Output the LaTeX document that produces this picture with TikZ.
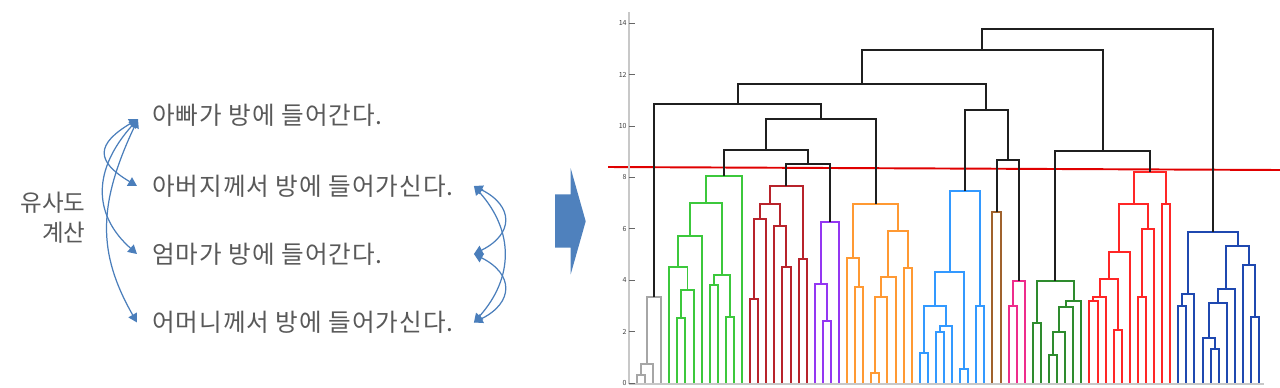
\documentclass[tikz,border=0pt]{standalone}
\usepackage{fontspec}
\setmainfont{Noto Sans CJK KR}
\newfontfamily\sentfont[LetterSpace=4]{Noto Sans CJK KR}
\usepackage{tikz}
\usetikzlibrary{arrows.meta}
\definecolor{textgray}{HTML}{595959}
\definecolor{arrowblue}{HTML}{4A7EBB}
\definecolor{blockblue}{HTML}{4F81BD}
\definecolor{axisgray}{HTML}{C8C8C8}
\definecolor{cgray}{HTML}{A6A6A6}
\definecolor{cgreen}{HTML}{3CC83C}
\definecolor{cdarkred}{HTML}{B8232B}
\definecolor{cpurple}{HTML}{9436F2}
\definecolor{corange}{HTML}{FF9933}
\definecolor{clightblue}{HTML}{3399FF}
\definecolor{cbrown}{HTML}{A0622D}
\definecolor{cpink}{HTML}{EE2C8C}
\definecolor{cdarkgreen}{HTML}{2E8B2E}
\definecolor{cred}{HTML}{FF2626}
\definecolor{cdarkblue}{HTML}{1F48B0}
\definecolor{cutred}{HTML}{E00000}
\tikzset{%
	sentence/.style = {
		anchor=west, inner sep=0pt,
		text=textgray, font=\sentfont\fontsize{14}{17}\selectfont
	},
	simlabel/.style = {
		anchor=east, inner sep=0pt, align=right,
		text=textgray, font=\fontsize{13.4}{17}\selectfont
	},
	simarrow/.style = {
		draw=arrowblue, line width=0.7pt,
		{Triangle[width=5.5pt,length=5pt]}-{Triangle[width=5.5pt,length=5pt]}
	},
	link/.style = {line width=1.134pt},
	merge/.style = {line width=1.134pt, draw=black!88},
	ticklabel/.style = {
		anchor=east, inner sep=0pt, xshift=-1.2pt,
		text=black!75, font=\fontsize{4}{4}\selectfont
	},
	tickmark/.style = {draw=black!60, line width=0.4pt}
}

\begin{document}
\begin{tikzpicture}[x=0.02cm, y=0.02cm]
    \useasboundingbox (0,0) rectangle (1280,387);
    % Left side: sentences and similarity arrows
    \node (simcalc)  [simlabel] at (86,169) {유사도\\계산};
    \node (appa)     [sentence] at (152,272)   {아빠가 방에 들어간다.};
    \node (abeoji)   [sentence] at (152,201)   {아버지께서 방에 들어가신다.};
    \node (eomma)    [sentence] at (152,133)   {엄마가 방에 들어간다.};
    \node (eomeoni)  [sentence] at (152,64.5)  {어머니께서 방에 들어가신다.};

    \coordinate (r2) at ([xshift=0.4cm]abeoji.east);
    \coordinate (r3) at (r2 |- eomma.west);
    \coordinate (r4) at ([xshift=0.4cm]eomeoni.east);

    \draw[simarrow] ([xshift=-0.28cm,yshift=-0.08cm]appa.west) .. controls +(-42,-25) and +(-42,25) .. ([xshift=-0.3cm]abeoji.west);
    \draw[simarrow] ([xshift=-0.28cm,yshift=-0.08cm]appa.west) .. controls +(-45,-50) and +(-45,40) .. ([xshift=-0.3cm]eomma.west);
    \draw[simarrow] ([xshift=-0.28cm,yshift=-0.08cm]appa.west) .. controls +(-40,-85) and +(-40,70) .. ([xshift=-0.3cm]eomeoni.west);

    \draw[simarrow] (r2) .. controls +(40,-20) and +(40,20) .. (r3);
    \draw[simarrow] (r3) .. controls +(40,-20) and +(40,20) .. (r4);
    \draw[simarrow] (r2) .. controls +(40,-45) and +(40,45) .. (r4);

    % Block arrow
    \fill[blockblue] (555,192.7) -- (570.7,192.7) -- (570.7,218.7) -- (585.7,165.7)
        -- (570.7,112.7) -- (570.7,139.3) -- (555,139.3) -- cycle;

    % Cut line
    \draw[cutred, line width=1.1pt] (608,220) -- (1280,217);

    % Dendrogram (leaf index, height)
    \begin{scope}[shift={(637,4)}, x=0.1616cm, y=0.514cm]
    \draw[axisgray, line width=1.1pt] (-0.99,-0.05) -- (-0.99,14.44);
    \draw[axisgray, line width=1.1pt] (-0.99,-0.03) -- (77.6,-0.03);
    \draw[tickmark] (-0.99,0)  node (t0)  [ticklabel] {0}  -- (-0.3,0);
    \draw[tickmark] (-0.99,2)  node (t2)  [ticklabel] {2}  -- (-0.3,2);
    \draw[tickmark] (-0.99,4)  node (t4)  [ticklabel] {4}  -- (-0.3,4);
    \draw[tickmark] (-0.99,6)  node (t6)  [ticklabel] {6}  -- (-0.3,6);
    \draw[tickmark] (-0.99,8)  node (t8)  [ticklabel] {8}  -- (-0.3,8);
    \draw[tickmark] (-0.99,10) node (t10) [ticklabel] {10} -- (-0.3,10);
    \draw[tickmark] (-0.99,12) node (t12) [ticklabel] {12} -- (-0.3,12);
    \draw[tickmark] (-0.99,14) node (t14) [ticklabel] {14} -- (-0.3,14);

    % gray
    \draw[link, cgray] (0,0) |- (1,0.32) -- (1,0);
    \draw[link, cgray] (0.5,0.32) |- (2,0.75) -- (2,0);
    \draw[link, cgray] (1.25,0.75) |- (3,3.33) -- (3,0);
    % green
    \draw[link, cgreen] (5,0) |- (6,2.54) -- (6,0);
    \draw[link, cgreen] (5.5,2.54) |- (7,3.61) -- (7,0);
    \draw[link, cgreen] (4,0) |- (6.25,4.51) -- (6.25,3.61);
    \draw[link, cgreen] (5.125,4.51) |- (8,5.73) -- (8,0);
    \draw[link, cgreen] (9,0) |- (10,3.82) -- (10,0);
    \draw[link, cgreen] (11,0) |- (12,2.58) -- (12,0);
    \draw[link, cgreen] (9.5,3.82) |- (11.5,4.21) -- (11.5,2.58);
    \draw[link, cgreen] (6.5625,5.73) |- (10.5,7.00) -- (10.5,4.21);
    \draw[link, cgreen] (8.53,7.00) |- (13,8.07) -- (13,0);
    % dark red
    \draw[link, cdarkred] (14,0) |- (15,3.27) -- (15,0);
    \draw[link, cdarkred] (14.5,3.27) |- (16,6.38) -- (16,0);
    \draw[link, cdarkred] (18,0) |- (19,4.53) -- (19,0);
    \draw[link, cdarkred] (17,0) |- (18.5,6.10) -- (18.5,4.53);
    \draw[link, cdarkred] (15.25,6.38) |- (17.75,6.98) -- (17.75,6.10);
    \draw[link, cdarkred] (20,0) |- (21,4.82) -- (21,0);
    \draw[link, cdarkred] (16.5,6.98) |- (20.5,7.68) -- (20.5,4.82);
    % purple
    \draw[link, cpurple] (23,0) |- (24,2.42) -- (24,0);
    \draw[link, cpurple] (22,0) |- (23.5,3.85) -- (23.5,2.42);
    \draw[link, cpurple] (22.75,3.85) |- (25,6.25) -- (25,0);
    % orange
    \draw[link, corange] (27,0) |- (28,3.72) -- (28,0);
    \draw[link, corange] (26,0) |- (27.5,4.85) -- (27.5,3.72);
    \draw[link, corange] (29,0) |- (30,0.38) -- (30,0);
    \draw[link, corange] (29.5,0.38) |- (31,3.33) -- (31,0);
    \draw[link, corange] (30.25,3.33) |- (32,4.11) -- (32,0);
    \draw[link, corange] (33,0) |- (34,4.49) -- (34,0);
    \draw[link, corange] (31.125,4.11) |- (33.5,5.90) -- (33.5,4.49);
    \draw[link, corange] (26.75,4.85) |- (32.3125,6.95) -- (32.3125,5.90);
    % light blue
    \draw[link, clightblue] (35,0) |- (36,1.18) -- (36,0);
    \draw[link, clightblue] (37,0) |- (38,1.97) -- (38,0);
    \draw[link, clightblue] (37.5,1.97) |- (39,2.23) -- (39,0);
    \draw[link, clightblue] (35.5,1.18) |- (38.25,2.98) -- (38.25,2.23);
    \draw[link, clightblue] (40,0) |- (41,0.56) -- (41,0);
    \draw[link, clightblue] (36.875,2.98) |- (40.5,4.31) -- (40.5,0.56);
    \draw[link, clightblue] (42,0) |- (43,2.98) -- (43,0);
    \draw[link, clightblue] (38.6875,4.31) |- (42.5,7.46) -- (42.5,2.98);
    % brown, pink
    \draw[link, cbrown] (44,0) |- (45,6.67) -- (45,0);
    \draw[link, cpink] (46,0) |- (47,3.00) -- (47,0);
    \draw[link, cpink] (46.5,3.00) |- (48,3.97) -- (48,0);
    % dark green
    \draw[link, cdarkgreen] (49,0) |- (50,2.32) -- (50,0);
    \draw[link, cdarkgreen] (51,0) |- (52,1.09) -- (52,0);
    \draw[link, cdarkgreen] (51.5,1.09) |- (53,1.97) -- (53,0);
    \draw[link, cdarkgreen] (52.25,1.97) |- (54,2.95) -- (54,0);
    \draw[link, cdarkgreen] (53.125,2.95) |- (55,3.19) -- (55,0);
    \draw[link, cdarkgreen] (49.5,2.32) |- (54.0625,3.98) -- (54.0625,3.19);
    % red
    \draw[link, cred] (56,0) |- (57,3.18) -- (57,0);
    \draw[link, cred] (56.5,3.18) |- (58,3.36) -- (58,0);
    \draw[link, cred] (59,0) |- (60,2.06) -- (60,0);
    \draw[link, cred] (57.25,3.36) |- (59.5,4.05) -- (59.5,2.06);
    \draw[link, cred] (58.375,4.05) |- (61,5.10) -- (61,0);
    \draw[link, cred] (62,0) |- (63,3.33) -- (63,0);
    \draw[link, cred] (62.5,3.33) |- (64,5.99) -- (64,0);
    \draw[link, cred] (59.6875,5.10) |- (63.25,6.98) -- (63.25,5.99);
    \draw[link, cred] (65,0) |- (66,6.98) -- (66,0);
    \draw[link, cred] (61.47,6.98) |- (65.5,8.22) -- (65.5,6.98);
    % dark blue
    \draw[link, cdarkblue] (67,0) |- (68,2.98) -- (68,0);
    \draw[link, cdarkblue] (67.5,2.98) |- (69,3.47) -- (69,0);
    \draw[link, cdarkblue] (71,0) |- (72,1.32) -- (72,0);
    \draw[link, cdarkblue] (70,0) |- (71.5,1.76) -- (71.5,1.32);
    \draw[link, cdarkblue] (70.75,1.76) |- (73,3.11) -- (73,0);
    \draw[link, cdarkblue] (71.875,3.11) |- (74,3.65) -- (74,0);
    \draw[link, cdarkblue] (76,0) |- (77,2.58) -- (77,0);
    \draw[link, cdarkblue] (75,0) |- (76.5,4.58) -- (76.5,2.58);
    \draw[link, cdarkblue] (72.9375,3.65) |- (75.75,5.32) -- (75.75,4.58);
    \draw[link, cdarkblue] (68.25,3.47) |- (74.34,5.89) -- (74.34,5.32);
    % upper merges
    \draw[merge] (18.5,7.68) |- (23.875,8.51) -- (23.875,6.25);
    \draw[merge] (10.77,8.07) |- (21.19,9.07) -- (21.19,8.51);
    \draw[merge] (15.98,9.07) |- (29.53,10.26) -- (29.53,6.95);
    \draw[merge] (2.125,3.33) |- (22.755,10.84) -- (22.755,10.26);
    \draw[merge] (44.5,6.67) |- (47.25,8.67) -- (47.25,3.97);
    \draw[merge] (40.59,7.46) |- (45.875,10.62) -- (45.875,8.67);
    \draw[merge] (12.44,10.84) |- (43.23,11.65) -- (43.23,10.62);
    \draw[merge] (51.78,3.98) |- (63.485,9.01) -- (63.485,8.22);
    \draw[merge] (27.835,11.65) |- (57.63,12.97) -- (57.63,9.01);
    \draw[merge] (42.73,12.97) |- (71.295,13.76) -- (71.295,5.89);
    \end{scope}

\end{tikzpicture}
\end{document}
